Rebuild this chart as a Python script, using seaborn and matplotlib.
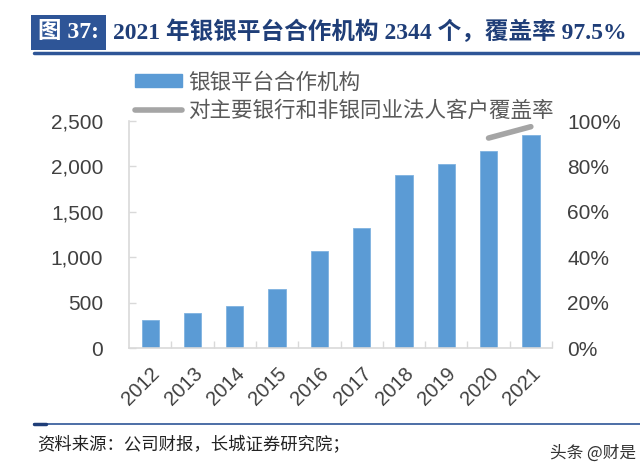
import matplotlib
matplotlib.use("Agg")
import matplotlib.pyplot as plt
import matplotlib.lines as mlines
import matplotlib.patches as mpatches
import seaborn as sns
import numpy as np
import pandas as pd

years = ["2012", "2013", "2014", "2015", "2016", "2017", "2018", "2019", "2020", "2021"]
partners = [311, 385, 465, 648, 1073, 1319, 1901, 2022, 2172, 2344]
coverage = [np.nan, np.nan, np.nan, np.nan, np.nan, np.nan, np.nan, np.nan, 0.925, 0.975]

bar_name = "银银平台合作机构"
line_name = "对主要银行和非银同业法人客户覆盖率"
title = "2021 年银银平台合作机构 2344 个，覆盖率 97.5%"
source = "资料来源：公司财报，长城证券研究院；"

sns.set_theme(style="white")
plt.rcParams["font.family"] = ["Liberation Sans", "Noto Sans CJK SC", "DejaVu Sans"]

bar_color = "#5B9BD5"
line_color = "#A5A5A5"
tick_color = "#404040"
spine_color = "#D9D9D9"
navy = "#1F3E78"
band = "#2E5597"

dt = pd.DataFrame({"year": years, "partners": partners, "coverage": coverage})
dt["pos"] = np.arange(len(years))

fig = plt.figure(figsize=(6.4, 4.74), dpi=100)
ax = fig.add_axes([0.2016, 0.2652, 0.6609, 0.4795])

sns.barplot(data=dt, x="year", y="partners", color=bar_color, width=0.41,
            saturation=1, edgecolor="#7FB2E0", linewidth=0.6, ax=ax)
ax.set_ylim(0, 2500)
ax.set_xlim(-0.5, len(years) - 0.5)
ax.set_yticks(range(0, 2501, 500))
ax.set_yticklabels([f"{v:,}" for v in range(0, 2501, 500)])
ax.set_xlabel("")
ax.set_ylabel("")

for s in ["top", "right"]:
    ax.spines[s].set_visible(False)
for s in ["left", "bottom"]:
    ax.spines[s].set_color(spine_color)
    ax.spines[s].set_linewidth(1.2)

ax.tick_params(axis="y", direction="in", length=5, width=1, color=spine_color,
               labelsize=15, labelcolor=tick_color, pad=18.5, left=True)
# x ticks between categories
ax.set_xticks(np.arange(len(years)))
ax.set_xticklabels(years, rotation=45, ha="right", rotation_mode="anchor")
ax.tick_params(axis="x", length=0, labelsize=14.5, labelcolor=tick_color, pad=11)
ax.set_xticks(np.arange(len(years)) + 0.5, minor=True)
ax.tick_params(axis="x", which="minor", direction="in", length=5, width=1,
               color=spine_color, bottom=True)

ax2 = ax.twinx()
sns.lineplot(data=dt.dropna(), x="pos", y="coverage", color=line_color, linewidth=4,
             solid_capstyle="round", ax=ax2)
ax2.set_ylim(0, 1)
ax2.set_yticks(np.linspace(0, 1, 6))
ax2.set_yticklabels([f"{int(v * 100)}%" for v in np.linspace(0, 1, 6)])
ax2.set_ylabel("")
ax2.set_xlabel("")
for s in ["top", "right", "left", "bottom"]:
    ax2.spines[s].set_visible(False)
ax2.tick_params(axis="y", length=0, labelsize=15, labelcolor=tick_color, pad=11)
ax.set_xlim(-0.5, len(years) - 0.5)

# legend
h1 = mpatches.Patch(color=bar_color)
h2 = mlines.Line2D([], [], color=line_color, linewidth=4, solid_capstyle="round")
leg = fig.legend([h1, h2], [bar_name, line_name], loc="upper left",
                 bbox_to_anchor=(0.18, 0.89), frameon=False,
                 handlelength=2.2, handleheight=0.55, labelspacing=0.3, handletextpad=0.28,
                 prop={"family": ["Noto Sans CJK SC"], "size": 15.5})
for t in leg.get_texts():
    t.set_color("#595959")

# title bar
fig.text(0.06, 0.932, "图 37:", color="white", fontsize=17, fontweight="bold",
         family=["Liberation Serif", "Noto Sans CJK SC"], va="center",
         bbox=dict(boxstyle="square,pad=0.3", facecolor=band, edgecolor="none"))
fig.text(0.177, 0.932, title, color=navy, fontsize=17, fontweight="bold",
         family=["Liberation Serif", "Noto Sans CJK SC"], va="center")
fig.add_artist(mlines.Line2D([0.053, 1.0], [0.889, 0.889], color=band, linewidth=2.5))

# footer
fig.add_artist(mlines.Line2D([0.053, 1.0], [0.105, 0.105], color=band, linewidth=1.2))
fig.add_artist(mlines.Line2D([0.053, 0.072], [0.105, 0.105], color="#1F3E78", linewidth=2.5))
fig.text(0.058, 0.061, source, color="#222222", fontsize=12.5, style="italic",
         family=["Noto Sans CJK SC"], va="center")
fig.text(0.993, 0.044, "头条 @财是", color="#333333", fontsize=12,
         family=["Noto Sans CJK SC"], va="center", ha="right")

plt.savefig("out.png", dpi=100)
